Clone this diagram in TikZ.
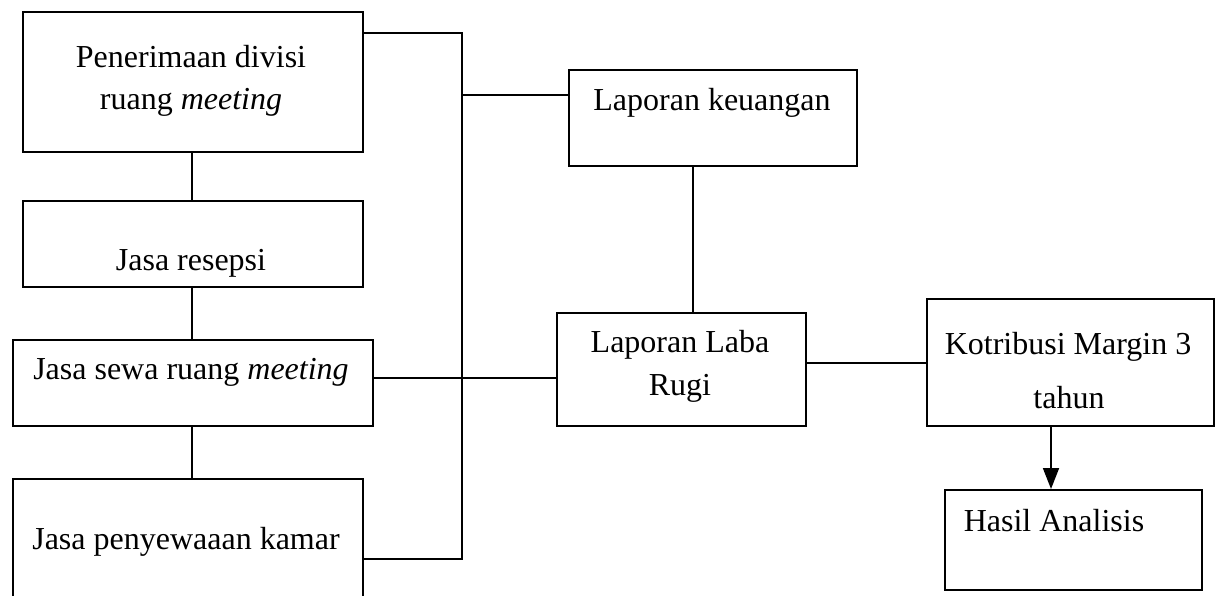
\documentclass[tikz,border=0pt]{standalone}
\usepackage{fontspec}
\setmainfont{Liberation Serif}
\usetikzlibrary{arrows.meta}
\begin{document}
\begin{tikzpicture}[x=1pt,y=-1pt,
  box/.style={draw=black,line width=1.8pt,rectangle,anchor=north west,inner sep=0pt},
  lbl/.style={anchor=base,inner sep=0pt,font=\fontsize{32}{38}\selectfont},
  conn/.style={draw=black,line width=1.8pt}]
\useasboundingbox (0,0) rectangle (1222,595);
\fill[white] (0,0) rectangle (1222,595);
\node[box,minimum width=340pt,minimum height=140pt] (b1) at (22,11) {};
\node[box,minimum width=340pt,minimum height=86pt] (b2) at (22,200) {};
\node[box,minimum width=360pt,minimum height=86pt] (b3) at (12,339) {};
\node[box,minimum width=350pt,minimum height=130pt] (b4) at (12,478) {};
\node[box,minimum width=288pt,minimum height=96pt] (b5) at (568,69) {};
\node[box,minimum width=249pt,minimum height=113pt] (b6) at (556,312) {};
\node[box,minimum width=287pt,minimum height=127pt] (b7) at (926,298) {};
\node[box,minimum width=257pt,minimum height=100pt] (b8) at (944,489) {};
% texts
\node[lbl] (t1a) at (191,67) {Penerimaan divisi};
\node[lbl] (t1b) at (191,109) {ruang \textit{meeting}};
\node[lbl] (t2) at (191,270) {Jasa resepsi};
\node[lbl] (t3) at (191,379) {Jasa sewa ruang \textit{meeting}};
\node[lbl] (t4) at (186,549) {Jasa penyewaaan kamar};
\node[lbl] (t5) at (712,110) {Laporan keuangan};
\node[lbl] (t6a) at (680,352) {Laporan Laba};
\node[lbl] (t6b) at (680,395) {Rugi};
\node[lbl] (t7a) at (1068,354) {Kotribusi Margin 3};
\node[lbl] (t7b) at (1069,408) {tahun};
\node[lbl] (t8) at (1054,531) {Hasil Analisis};
% connectors
\coordinate (ja) at (192,0);
\draw[conn] (b1.south -| ja) -- (b2.north -| ja);
\draw[conn] (b2.south -| ja) -- (b3.north -| ja);
\draw[conn] (b3.south -| ja) -- (b4.north -| ja);
\coordinate (j1) at (462,33);
\coordinate (j2) at (462,559);
\coordinate (j3) at (462,95);
\draw[conn] (b1.east |- j1) -- (j1) -- (j2) -- (b4.east |- j2);
\draw[conn] (j3) -- (j3 -| b5.west);
\coordinate (j4) at (0,378);
\draw[conn] (b3.east |- j4) -- (b6.west |- j4);
\coordinate (j5) at (693,0);
\draw[conn] (b5.south -| j5) -- (b6.north -| j5);
\coordinate (j6) at (0,363);
\draw[conn] (b6.east |- j6) -- (b7.west |- j6);
\coordinate (j7) at (1051,0);
\draw[conn,-{Triangle[width=16pt,length=21pt]}] (b7.south -| j7) -- (b8.north -| j7);
\end{tikzpicture}
\end{document}
